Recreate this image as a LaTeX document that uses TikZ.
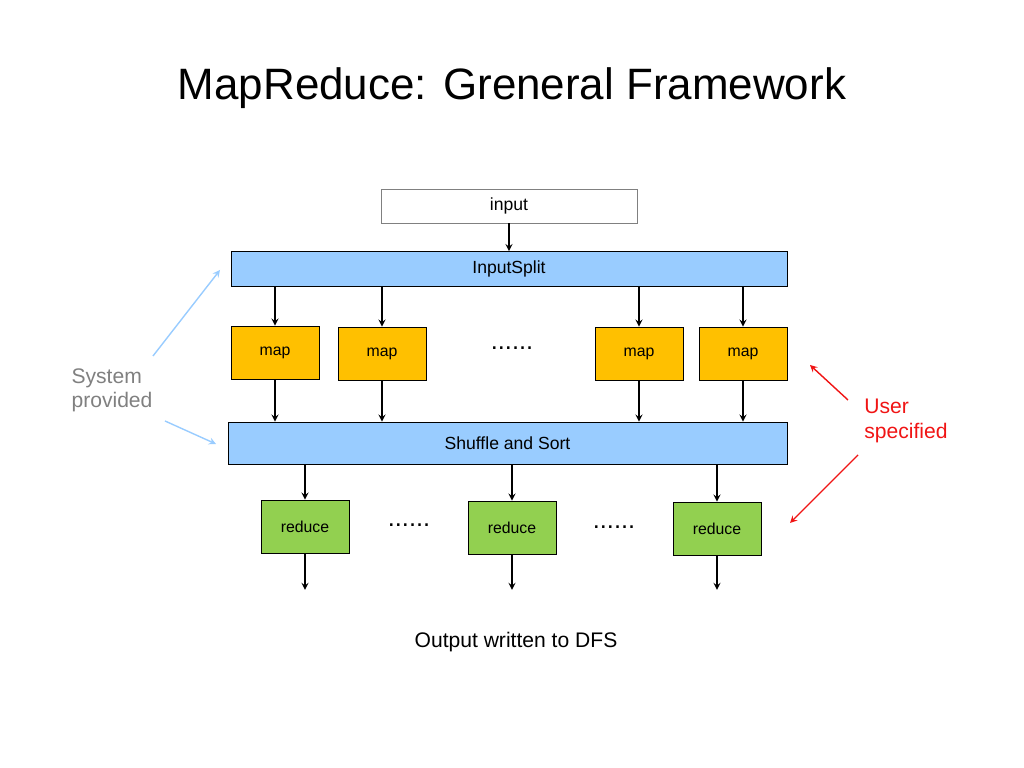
\documentclass[tikz,border=0pt]{standalone}
\usepackage{fontspec}
\setmainfont{Liberation Sans}
\usetikzlibrary{positioning}
\definecolor{sysblue}{RGB}{153,204,255}
\definecolor{maporange}{RGB}{255,192,0}
\definecolor{redgreen}{RGB}{146,208,80}
\definecolor{usrred}{RGB}{240,20,20}
\tikzset{
  bar/.style={draw, fill=sysblue, minimum height=0.7cm},
  task/.style={draw, minimum width=1.76cm, minimum height=1.06cm, font=\small},
  flow/.style={-stealth, thick},
  hint/.style={-stealth, thick}
}
\begin{document}
\begin{tikzpicture}
  \useasboundingbox (0,0) rectangle (20.48,15.36);
  % title
  \node (title) at (10.24,13.6) {\fontsize{25}{30}\selectfont MapReduce: Greneral Framework};
  % input and split
  \node[draw=gray, minimum width=5.12cm, minimum height=0.68cm] (input) at (10.18,11.24) {input};
  \node[bar, minimum width=11.12cm] (split) at (10.18,9.98) {InputSplit};
  % map tasks
  \node[task, fill=maporange] (m1) at (5.50,8.31) {map};
  \node[task, fill=maporange] (m2) at (7.64,8.29) {map};
  \node[task, fill=maporange] (m3) at (12.78,8.29) {map};
  \node[task, fill=maporange] (m4) at (14.86,8.29) {map};
  \node[font=\Large] (mdots) at (10.24,8.40) {......};
  % shuffle
  \node[bar, minimum width=11.18cm, minimum height=0.84cm] (shuffle) at (10.15,6.50) {Shuffle and Sort};
  % reduce tasks
  \node[task, fill=redgreen] (r1) at (6.10,4.83) {reduce};
  \node[task, fill=redgreen] (r2) at (10.24,4.81) {reduce};
  \node[task, fill=redgreen] (r3) at (14.34,4.79) {reduce};
  \node[font=\Large] (rdots1) at (8.18,4.86) {......};
  \node[font=\Large] (rdots2) at (12.28,4.82) {......};
  \coordinate (o1) at (6.10,3.56);
  \coordinate (o2) at (10.24,3.56);
  \coordinate (o3) at (14.34,3.56);
  \node[font=\large] (out) at (10.32,2.52) {Output written to DFS};
  % arrows
  \draw[flow] (input) -- (split);
  \foreach \m in {m1,m2,m3,m4} {
    \draw[flow] (split.south -| \m) -- (\m);
    \draw[flow] (\m) -- (shuffle.north -| \m);
  }
  \foreach \r/\o in {r1/o1,r2/o2,r3/o3} {
    \draw[flow] (shuffle.south -| \r) -- (\r);
    \draw[flow] (\r) -- (\o);
  }
  % side notes
  \node[gray, align=left, font=\large] (sys) at (2.24,7.55) {System\\provided};
  \node[usrred, align=left, font=\large] (usr) at (18.12,6.94) {User\\specified};
  \draw[hint, sysblue] (3.06,8.24) -- (4.40,9.96);
  \draw[hint, sysblue] (3.30,6.94) -- (4.32,6.48);
  \draw[hint, usrred] (16.96,7.36) -- (16.20,8.06);
  \draw[hint, usrred] (17.16,6.26) -- (15.80,4.90);
\end{tikzpicture}
\end{document}
